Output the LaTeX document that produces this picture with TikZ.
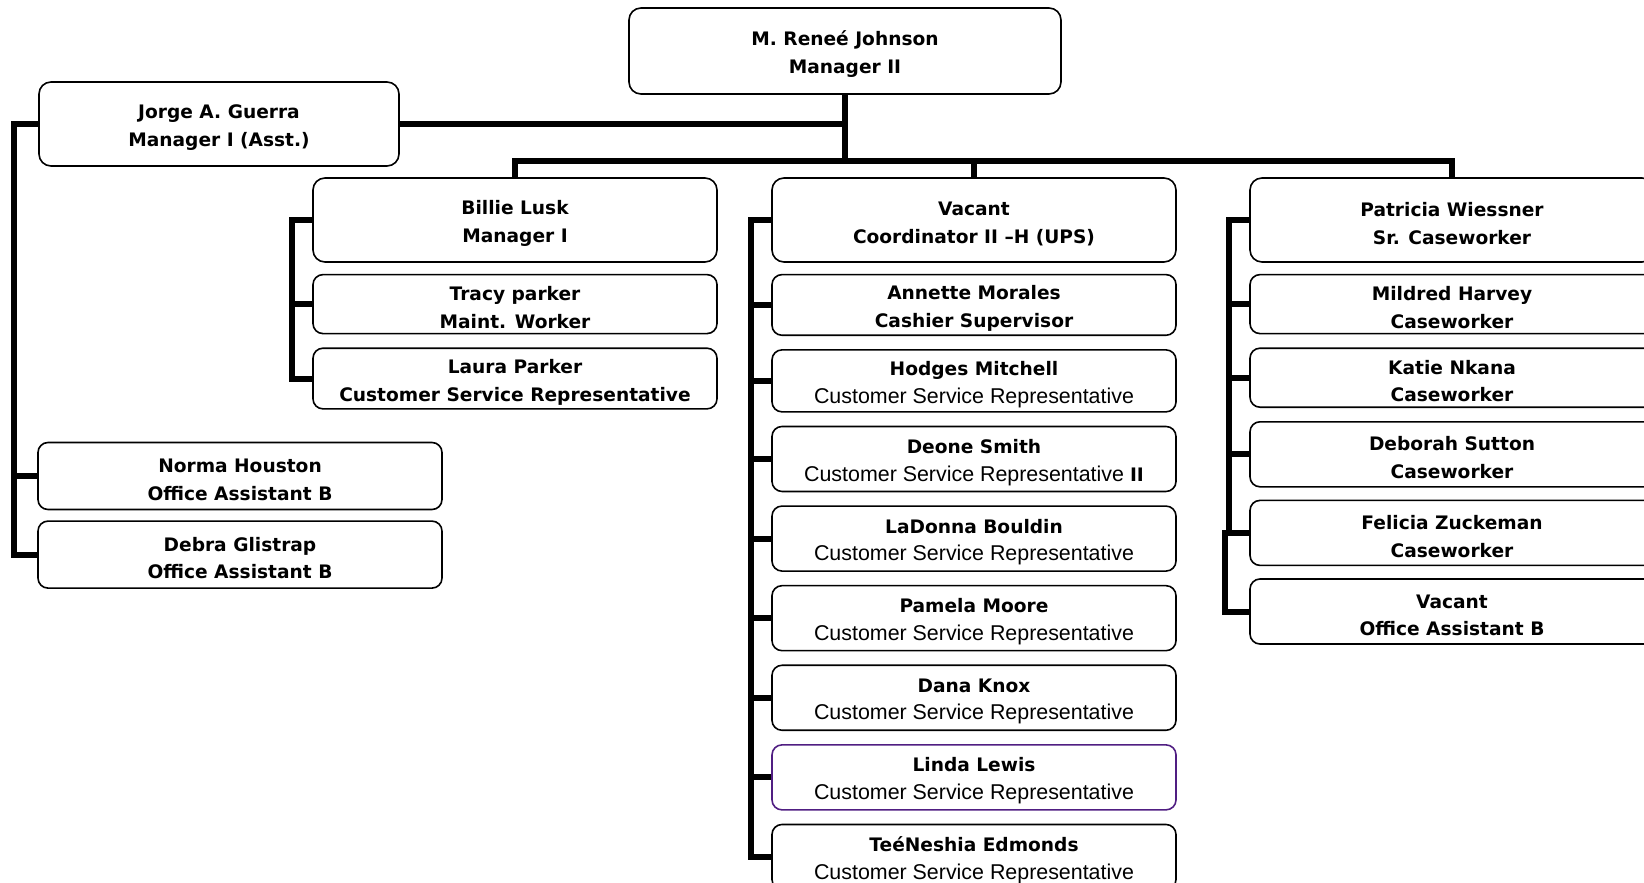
\documentclass[tikz,border=0pt]{standalone}
\usepackage{fontspec}
\setmainfont{Liberation Sans}
\newfontfamily\tahomaLike{DejaVu Sans}
\usetikzlibrary{positioning}
\newcommand*{\boxWidth}{202pt}
\newcommand*{\boldLine}[1]{{\tahomaLike\bfseries\fontsize{9.3}{13.8}\selectfont #1}}
\newcommand*{\nameLine}[1]{\rule{0pt}{10.6pt}\boldLine{#1}}
\definecolor{lindaPurple}{RGB}{80,30,130}
\tikzset{
    point/.style = {coordinate},
    link/.style  = {line width=3pt},
    boss/.style  = {draw, line width=0.8pt, rectangle, rounded corners=6pt, minimum width=\boxWidth, minimum height=42pt, text centered, align=center},
    staff/.style = {draw, line width=0.8pt, rectangle, rounded corners=5pt, minimum width=\boxWidth, minimum height=29.5pt, text centered, align=center},
    tall/.style  = {staff, minimum height=32.5pt}
}

\begin{document}
\begin{tikzpicture}[x=0.5pt, y=-0.5pt, node distance=6.5pt, every node/.style={font=\fontsize{10.7}{13.8}\selectfont, inner sep=2pt}]
	\useasboundingbox (0,0) rectangle (1644,883);

	\node (johnson)     [boss, minimum width=216pt, minimum height=43pt] at (845,51) {\nameLine{M. Reneé Johnson}\\\boldLine{Manager II}};
	\node (guerra)      [boss, minimum width=180pt] at (219,124) {\nameLine{Jorge A. Guerra}\\\boldLine{Manager I (Asst.)}};
	\node (lusk)        [boss] at (515,220) {\nameLine{Billie Lusk}\\\boldLine{Manager I}};
	\node (coordinator) [boss] at (974,220) {\nameLine{Vacant}\\\boldLine{Coordinator II –H (UPS)}};
	\node (wiessner)    [boss] at (1452,220) {\nameLine{Patricia Wiessner}\\\boldLine{Sr. Caseworker}};

	\node (tracy)    [staff, below=5.5pt of lusk] {\nameLine{Tracy parker}\\\boldLine{Maint. Worker}};
	\node (laura)    [staff, below=of tracy] {\nameLine{Laura Parker}\\\boldLine{Customer Service Representative}};

	\node (morales)  [staff, below=5.5pt of coordinator] {\nameLine{Annette Morales}\\\boldLine{Cashier Supervisor}};
	\node (mitchell) [tall, minimum height=31pt, below=of morales] {\nameLine{Hodges Mitchell}\\Customer Service Representative};
	\node (smith)    [tall, below=of mitchell] {\nameLine{Deone Smith}\\Customer Service Representative \boldLine{II}};
	\node (bouldin)  [tall, below=of smith] {\nameLine{LaDonna Bouldin}\\Customer Service Representative};
	\node (moore)    [tall, below=of bouldin] {\nameLine{Pamela Moore}\\Customer Service Representative};
	\node (knox)     [tall, below=of moore] {\nameLine{Dana Knox}\\Customer Service Representative};
	\node (lewis)    [tall, draw=lindaPurple, below=of knox] {\nameLine{Linda Lewis}\\Customer Service Representative};
	\node (edmonds)  [tall, below=of lewis] {\nameLine{TeéNeshia Edmonds}\\Customer Service Representative};

	\node (harvey)   [staff, below=5.5pt of wiessner] {\nameLine{Mildred Harvey}\\\boldLine{Caseworker}};
	\node (nkana)    [staff, below=of harvey] {\nameLine{Katie Nkana}\\\boldLine{Caseworker}};
	\node (sutton)   [tall, below=of nkana] {\nameLine{Deborah Sutton}\\\boldLine{Caseworker}};
	\node (zuckeman) [tall, below=6pt of sutton] {\nameLine{Felicia Zuckeman}\\\boldLine{Caseworker}};
	\node (vacantOA) [tall, below=6pt of zuckeman] {\nameLine{Vacant}\\\boldLine{Office Assistant B}};

	\node (houston)  [tall, minimum height=33.5pt] at (240,476) {\nameLine{Norma Houston}\\\boldLine{Office Assistant B}};
	\node (glistrap) [tall, minimum height=33.5pt, below=5pt of houston] {\nameLine{Debra Glistrap}\\\boldLine{Office Assistant B}};

	\node (bus)    [point, below=33pt of johnson] {};
	\node (spineA) [point, left=12pt of guerra.west] {};
	\node (spineB) [point, left=10pt of lusk.west] {};
	\node (spineC) [point, left=10pt of coordinator.west] {};
	\node (spineD) [point, left=10pt of wiessner.west] {};
	\node (spineE) [point, left=12pt of zuckeman.west] {};

	\draw [link] (johnson) -- (bus);
	\draw [link] (guerra.east) -- (guerra.east -| bus);
	\draw [link] (bus) -| (lusk.north);
	\draw [link] (bus) -| (coordinator.north);
	\draw [link] (bus) -| (wiessner.north);

	\draw [link] (guerra.west) -- (spineA) |- (houston.west);
	\draw [link] (spineA) |- (glistrap.west);

	\draw [link] (lusk.west) -- (spineB) |- (tracy.west);
	\draw [link] (spineB) |- (laura.west);

	\draw [link] (coordinator.west) -- (spineC) |- (morales.west);
	\draw [link] (spineC) |- (mitchell.west);
	\draw [link] (spineC) |- (smith.west);
	\draw [link] (spineC) |- (bouldin.west);
	\draw [link] (spineC) |- (moore.west);
	\draw [link] (spineC) |- (knox.west);
	\draw [link] (spineC) |- (lewis.west);
	\draw [link] (spineC) |- (edmonds.west);

	\draw [link] (wiessner.west) -- (spineD) |- (harvey.west);
	\draw [link] (spineD) |- (nkana.west);
	\draw [link] (spineD) |- (sutton.west);
	\draw [link] (spineD) |- (zuckeman.west);
	\draw [link] (zuckeman.west) -- (spineE) |- (vacantOA.west);
\end{tikzpicture}
\end{document}
